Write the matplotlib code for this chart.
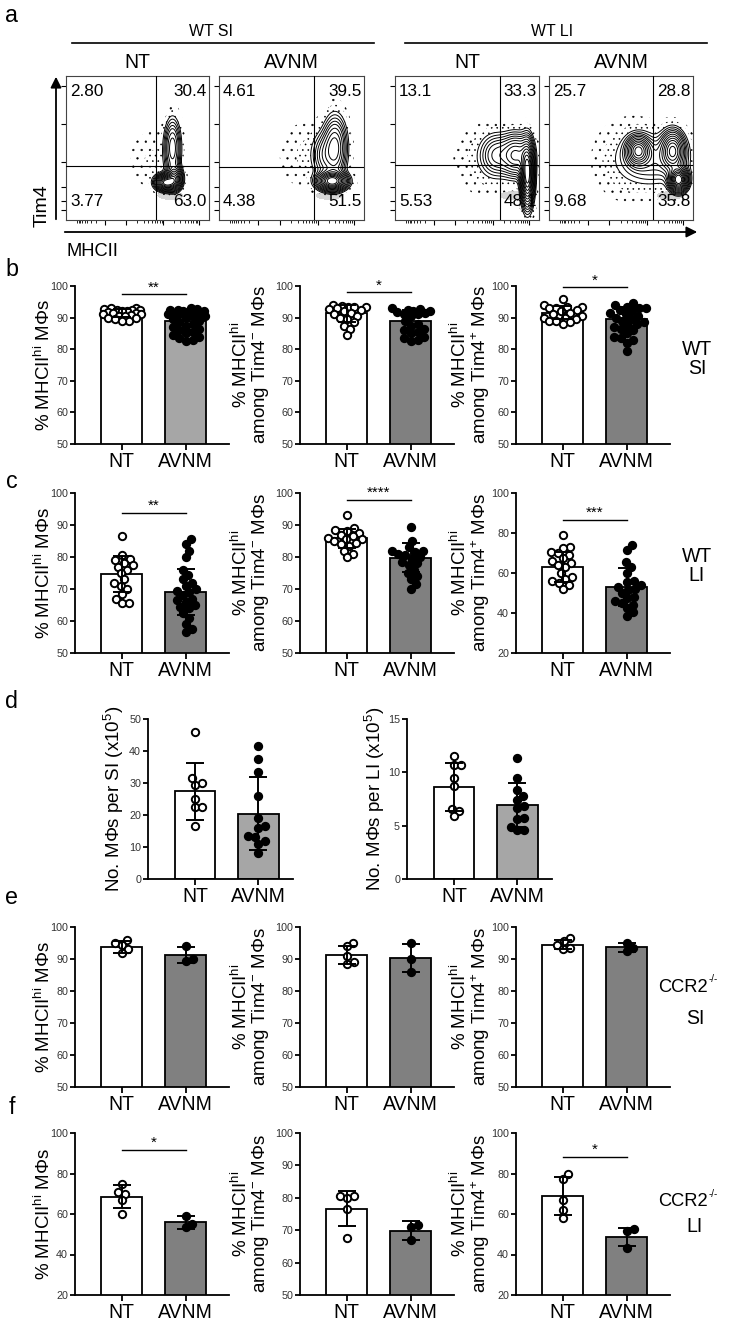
import numpy as np
import matplotlib
matplotlib.use('Agg')
import matplotlib.pyplot as plt
from matplotlib import font_manager

W, H = 743, 1324
DPI = 100

names = {f.name for f in font_manager.fontManager.ttflist}
REG = 'Liberation Sans'
if 'Liberation Sans Narrow' in names:
    NARROW, FS = 'Liberation Sans Narrow', 1.0
else:
    NARROW, FS = REG, 0.88

plt.rcParams['font.family'] = [REG, 'DejaVu Sans']
plt.rcParams['mathtext.fontset'] = 'custom'
plt.rcParams['mathtext.rm'] = REG
plt.rcParams['mathtext.default'] = 'regular'
plt.rcParams['hatch.linewidth'] = 0.4

# ---------------- panel a : flow plots ----------------
flow_groups = ['WT SI', 'WT LI']
flow_titles = ['NT', 'AVNM', 'NT', 'AVNM']
flow_quads = [['2.80', '30.4', '3.77', '63.0'],
              ['4.61', '39.5', '4.38', '51.5'],
              ['13.1', '33.3', '5.53', '48.1'],
              ['25.7', '28.8', '9.68', '35.8']]
flow_gate_x = [0.63, 0.655, 0.73, 0.72]
flow_gate_y = [0.375, 0.37, 0.38, 0.38]
# populations (x, y, sx, sy, weight) in box fraction
flow_pops = [
    [(0.70, 0.26, 0.04, 0.03, 1.0), (0.76, 0.29, 0.03, 0.045, 0.6),
     (0.745, 0.50, 0.032, 0.11, 0.35), (0.60, 0.42, 0.10, 0.13, 0.02)],
    [(0.78, 0.27, 0.055, 0.035, 1.0), (0.80, 0.50, 0.045, 0.12, 0.4),
     (0.72, 0.45, 0.045, 0.09, 0.15), (0.60, 0.45, 0.12, 0.15, 0.02)],
    [(0.92, 0.32, 0.025, 0.12, 1.0), (0.84, 0.45, 0.06, 0.08, 0.45),
     (0.70, 0.45, 0.06, 0.08, 0.2), (0.62, 0.42, 0.13, 0.15, 0.025)],
    [(0.62, 0.48, 0.045, 0.055, 0.55), (0.86, 0.48, 0.045, 0.075, 0.55),
     (0.90, 0.28, 0.035, 0.045, 0.9), (0.74, 0.42, 0.14, 0.10, 0.12),
     (0.56, 0.42, 0.15, 0.17, 0.025)],
]
flow_floor = [(0.73, 0.17, 0.06, 0.018), (0.76, 0.17, 0.06, 0.018),
              (0.82, 0.17, 0.06, 0.018), (0.84, 0.17, 0.06, 0.018)]

# ---------------- bar panels ----------------
groups = ['NT', 'AVNM']

b1_nt = [93, 93, 92.8, 92.5, 92.5, 92.3, 92, 92, 91.8, 91.5, 91.5, 91.2, 91, 90.8, 90.5, 90.5, 90, 89.8, 89.5, 89, 88.8]
b1_av = [93, 92.8, 92.5, 92.5, 92.2, 92, 92, 91.8, 91.5, 91.5, 91.2, 91, 90.5, 90.5, 90, 89.5, 89, 88.5,
         88, 87.5, 87, 86.5, 86, 85.5, 85, 84.5, 84, 83.5, 83, 82.5]
b1_mean, b1_sd = [91.5, 89.0], [1.3, 2.8]
b2_nt = [94, 93.8, 93.5, 93.5, 93.2, 93, 92.8, 92.5, 92, 91.5, 91, 90.5, 90, 89.5, 88.5, 87.5, 86.5, 84.5]
b2_av = [93, 92.8, 92.5, 92.2, 92, 91.8, 91.5, 91.2, 91, 90.5, 89, 88, 87.5, 86.5, 86, 85.5, 85, 84, 83.5, 83, 82.5]
b2_mean, b2_sd = [91.3, 89.0], [2.7, 3.5]
b3_nt = [96, 94, 93.5, 93.5, 93, 93, 92.5, 92, 91.5, 91, 90.5, 90, 90, 89.5, 89, 89, 88.5, 88]
b3_av = [94.5, 94, 93.5, 93, 93, 92.5, 92, 91.5, 91, 90.5, 90, 89.5, 89, 88.5, 88, 87.5, 87, 86.5, 86,
         85, 84, 83.5, 83, 82, 79.5]
b3_mean, b3_sd = [91.6, 89.5], [2.0, 3.8]

c1_nt = [86.5, 80.5, 79.5, 79, 78, 77.5, 77, 76, 75, 73, 72, 71, 70, 68.5, 67, 65.5, 65.5]
c1_av = [85.5, 84, 82, 80, 76, 74.5, 73, 72, 71, 70, 69.5, 69, 68, 67, 66.5, 66, 65, 64.5, 64, 62.5,
         61, 59, 57.5, 56.5]
c1_mean, c1_sd = [74.7, 69.1], [5.6, 7.3]
c2_nt = [93, 89, 88.5, 88, 87.5, 87, 86.5, 86, 85.5, 85.5, 85, 84.5, 84, 83.5, 82, 81, 80]
c2_av = [89.5, 85, 83, 82, 82, 81.5, 81, 80.5, 80, 79.5, 78.5, 78, 77.5, 76, 75, 74, 73, 71.5, 70]
c2_mean, c2_sd = [85.8, 79.8], [3.0, 4.5]
c3_nt = [79, 73, 72.5, 70.5, 70, 69, 67.5, 66, 65, 64, 63, 60, 58, 57, 56, 55, 54, 52]
c3_av = [74, 71.5, 65.5, 63, 60, 56, 55.5, 54, 53, 52, 51.5, 50, 48, 47.5, 46, 45, 44, 42.5, 40.5, 38.5]
c3_mean, c3_sd = [63.0, 53.0], [7.6, 9.3]

d1_nt = [46, 31.5, 30, 29.5, 25, 22.5, 22.5, 16.5]
d1_av = [41.5, 37.5, 33.5, 26, 19, 16.5, 16, 13.5, 13, 12, 11, 8]
d1_mean, d1_sd = [27.4, 20.4], [9.0, 11.4]
d2_nt = [11.5, 10.7, 10.7, 9.5, 8.7, 6.6, 6.4, 5.9]
d2_av = [11.3, 9.5, 8.3, 7.8, 7.4, 6.8, 6.7, 5.7, 5.6, 4.9, 4.6, 4.6]
d2_mean, d2_sd = [8.65, 6.95], [2.25, 2.05]

e1_nt, e1_av = [96, 95, 94.5, 93, 92], [94, 90, 89.5]
e1_mean, e1_sd = [93.8, 91.2], [1.8, 2.5]
e2_nt, e2_av = [95, 94, 91, 89, 88.5], [95, 90, 86]
e2_mean, e2_sd = [91.3, 90.3], [2.8, 4.4]
e3_nt, e3_av = [96.5, 95.5, 94.5, 93.5, 93], [95, 93.5, 92.5]
e3_mean, e3_sd = [94.5, 93.6], [1.4, 1.3]

f1_nt, f1_av = [75, 71, 70, 67, 60], [59, 55, 53.5]
f1_mean, f1_sd = [68.6, 56.0], [5.8, 3.2]
f2_nt, f2_av = [80.5, 80.5, 80, 76.5, 67.5], [71.5, 71, 67]
f2_mean, f2_sd = [76.6, 69.8], [5.4, 2.9]
f3_nt, f3_av = [80, 77.5, 67, 62, 58], [52.5, 51.5, 43]
f3_mean, f3_sd = [68.9, 48.7], [9.3, 4.6]

lab1 = '% MHCII$^{hi}$ MΦs'
lab2 = '% MHCII$^{hi}$\namong Tim4$^{-}$ MΦs'
lab3 = '% MHCII$^{hi}$\namong Tim4$^{+}$ MΦs'

LIGHT, DARK = '#a6a6a6', '#808080'

fig = plt.figure(figsize=(W / DPI, H / DPI), dpi=DPI)


def px_axes(l, t, r, b):
    ax = fig.add_axes([l / W, 1 - b / H, (r - l) / W, (b - t) / H])
    ax.patch.set_visible(False)
    return ax


over = px_axes(0, 0, W, H)
over.set_xlim(0, W)
over.set_ylim(H, 0)
over.axis('off')

# panel letters
for s, y in zip('abcdef', [15, 270, 482, 702, 898, 1108]):
    over.text(12, y, s, ha='center', va='center', fontsize=19 * FS, fontfamily=NARROW)

# ---- panel a ----
flow_left = [66, 219, 395, 549]
flow_right = [209, 364, 539, 693]
ftop, fbot = 76, 220

for g, cx, (x0, x1) in zip(flow_groups, [211, 552], [(72, 374), (405, 707)]):
    over.text(cx, 32, g, ha='center', va='center', fontsize=13 * FS, fontfamily=NARROW)
    over.plot([x0, x1], [43, 43], color='k', lw=1.2)

gx = np.linspace(0, 1, 240)
X, Y = np.meshgrid(gx, gx)
levels_rel = [0.04, 0.06, 0.085, 0.115, 0.15, 0.2, 0.26, 0.33, 0.41, 0.5, 0.6, 0.71, 0.83]
xmaj = [0.27, 0.42, 0.68, 0.93]
xmin = []
for a, b in [(0.42, 0.68), (0.68, 0.93)]:
    xmin += [a + (b - a) * np.log10(k) for k in range(2, 10)]
xmin += [0.27 - 0.2 * np.log10(k) for k in range(2, 10)]
ymaj = [0.07, 0.13, 0.23, 0.40, 0.67, 0.93]

for i in range(4):
    l, r = flow_left[i], flow_right[i]
    ax = px_axes(l, ftop, r, fbot)
    ax.set_xlim(0, 1)
    ax.set_ylim(0, 1)
    Z = np.zeros_like(X)
    for (px, py, sx, sy, w) in flow_pops[i]:
        Z += w * np.exp(-((X - px) ** 2 / (2 * sx ** 2) + (Y - py) ** 2 / (2 * sy ** 2)))
    zmax = Z.max()
    fx, fy, fsx, fsy = flow_floor[i]
    F = np.exp(-((X - fx) ** 2 / (2 * fsx ** 2) + (Y - fy) ** 2 / (2 * fsy ** 2)))
    ax.contourf(X, Y, F, levels=[0.35, 1.1], colors=['#d6d6d6'], zorder=1)
    ax.contourf(X, Y, Z, levels=[0.006 * zmax, 0.016 * zmax, 0.04 * zmax],
                colors='none', hatches=['..', '...'], zorder=1)
    ax.contour(X, Y, Z, levels=[v * zmax for v in levels_rel], colors='k', linewidths=0.7, zorder=2)
    ax.axvline(flow_gate_x[i], color='k', lw=0.8, zorder=3)
    ax.axhline(flow_gate_y[i], color='k', lw=0.8, zorder=3)
    for sp in ax.spines.values():
        sp.set_linewidth(0.8)
        sp.set_color('#444444')
    ax.set_xticks(xmaj)
    ax.set_xticks(xmin, minor=True)
    ax.set_yticks(ymaj)
    ax.tick_params(which='major', length=3.5, width=0.8, direction='out',
                   labelbottom=False, labelleft=False)
    ax.tick_params(which='minor', length=2, width=0.6, direction='out', left=False)
    q = flow_quads[i]
    bw, bh = r - l, fbot - ftop
    kw = dict(va='center', fontsize=14 * FS, fontfamily=NARROW, transform=ax.transAxes, zorder=5)
    ax.text(4 / bw, 1 - 16 / bh, q[0], ha='left', **kw)
    ax.text(1 - 2 / bw, 1 - 16 / bh, q[1], ha='right', **kw)
    ax.text(4 / bw, 18 / bh, q[2], ha='left', **kw)
    ax.text(1 - 2 / bw, 18 / bh, q[3], ha='right', **kw)
    over.text((l + r) / 2, 63, flow_titles[i], ha='center', va='center', fontsize=16 * FS, fontfamily=NARROW)

over.annotate('', xy=(56, 74), xytext=(56, 222),
              arrowprops=dict(arrowstyle='-|>', lw=1.3, color='k', mutation_scale=16))
over.annotate('', xy=(700, 232), xytext=(62, 232),
              arrowprops=dict(arrowstyle='-|>', lw=1.3, color='k', mutation_scale=16))
over.text(42, 206, 'Tim4', rotation=90, ha='center', va='center', fontsize=14)
over.text(67, 251, 'MHCII', ha='left', va='center', fontsize=15 * FS, fontfamily=NARROW)


# ---- bar panels ----
def swarm_x(vals, center, ylim, h_px, unit_px, d=7.0, max_off=19.0):
    ys = (np.asarray(vals, float) - ylim[0]) / (ylim[1] - ylim[0]) * h_px
    order = np.argsort(ys)
    steps = np.arange(0.5, max_off + 0.01, 0.5)
    cand = np.concatenate([[0], np.ravel(np.column_stack([steps, -steps]))])
    placed = []
    xs = np.zeros(len(ys))
    for k in order:
        best, best_d = 0.0, -1.0
        for c in cand:
            if not placed:
                best = c
                break
            md = min((c - qx) ** 2 + (ys[k] - qy) ** 2 for qx, qy in placed)
            if md >= d * d:
                best = c
                break
            if md > best_d:
                best, best_d = c, md
        placed.append((best, ys[k]))
        xs[k] = center + best / unit_px
    return xs


def bar_panel(box, nt, av, mean, sd, ylim, yticks, avcol, ylabel, lab_x,
              sig=None, xlim=(-0.73, 1.68)):
    l, t, r, b = box
    ax = px_axes(l, t, r, b)
    ax.set_xlim(*xlim)
    ax.set_ylim(*ylim)
    unit_px = (r - l) / (xlim[1] - xlim[0])
    h_px = b - t
    ax.bar([0, 1], mean, width=0.64, color=['white', avcol], edgecolor='k', linewidth=1.3, zorder=2)
    xs = swarm_x(nt, 0, ylim, h_px, unit_px)
    ax.plot(xs, nt, 'o', mfc='white', mec='k', ms=5.3, mew=1.4, zorder=3, clip_on=False)
    xs = swarm_x(av, 1, ylim, h_px, unit_px)
    ax.plot(xs, av, 'o', mfc='k', mec='k', ms=5.3, mew=1.4, zorder=3, clip_on=False)
    ax.errorbar([0, 1], mean, yerr=sd, fmt='none', ecolor='k', elinewidth=1.4,
                capsize=6.5, capthick=1.4, zorder=4)
    for s in ['top', 'right']:
        ax.spines[s].set_visible(False)
    for s in ['left', 'bottom']:
        ax.spines[s].set_linewidth(1.3)
    ax.set_xticks([0, 1])
    ax.set_xticklabels(groups, fontsize=16 * FS, fontfamily=NARROW)
    ax.set_yticks(yticks)
    ax.set_yticklabels([str(v) for v in yticks], fontsize=8.8 * FS, fontfamily=NARROW, color='#333333')
    ax.tick_params(axis='x', length=4, width=1.3, pad=1.5)
    ax.tick_params(axis='y', length=3.5, width=1.3, pad=1.5)
    if sig is not None:
        text, yl, ys = sig
        ax.plot([0, 1], [yl, yl], color='k', lw=1.0, clip_on=False)
        ax.text(0.5, ys, text, ha='center', va='center', fontsize=11, clip_on=False)
    over.text(lab_x, (t + b) / 2, ylabel, rotation=90, ha='center', va='center',
              fontsize=13.5, linespacing=0.92)
    return ax


cols = [(75, 229), (300, 454), (516, 670)]
lab_xs = [44, 251, 471]
rows = {'b': (286, 444), 'c': (493, 653), 'e': (927, 1087), 'f': (1133, 1295)}
t50 = [50, 60, 70, 80, 90, 100]
t20 = [20, 40, 60, 80, 100]


def box(row, col):
    return (cols[col][0], rows[row][0], cols[col][1], rows[row][1])


bar_panel(box('b', 0), b1_nt, b1_av, b1_mean, b1_sd, (50, 100), t50, LIGHT, lab1, lab_xs[0], ('**', 97.5, 99.5))
bar_panel(box('b', 1), b2_nt, b2_av, b2_mean, b2_sd, (50, 100), t50, DARK, lab2, lab_xs[1], ('*', 98, 100))
bar_panel(box('b', 2), b3_nt, b3_av, b3_mean, b3_sd, (50, 100), t50, DARK, lab3, lab_xs[2], ('*', 99.8, 101.8))

bar_panel(box('c', 0), c1_nt, c1_av, c1_mean, c1_sd, (50, 100), t50, DARK, lab1, lab_xs[0], ('**', 93.8, 96))
bar_panel(box('c', 1), c2_nt, c2_av, c2_mean, c2_sd, (50, 100), t50, DARK, lab2, lab_xs[1], ('****', 97.8, 100))
bar_panel(box('c', 2), c3_nt, c3_av, c3_mean, c3_sd, (20, 100), t20, DARK, lab3, lab_xs[2], ('***', 86.5, 90))

bar_panel((148, 719, 293, 879), d1_nt, d1_av, d1_mean, d1_sd, (0, 50), [0, 10, 20, 30, 40, 50], LIGHT,
          'No. MΦs per SI (x10$^{5}$)', 114, xlim=(-0.75, 1.55))
bar_panel((407, 719, 552, 879), d2_nt, d2_av, d2_mean, d2_sd, (0, 15), [0, 5, 10, 15], LIGHT,
          'No. MΦs per LI (x10$^{5}$)', 375, xlim=(-0.75, 1.55))

bar_panel(box('e', 0), e1_nt, e1_av, e1_mean, e1_sd, (50, 100), t50, DARK, lab1, lab_xs[0])
bar_panel(box('e', 1), e2_nt, e2_av, e2_mean, e2_sd, (50, 100), t50, DARK, lab2, lab_xs[1])
bar_panel(box('e', 2), e3_nt, e3_av, e3_mean, e3_sd, (50, 100), t50, DARK, lab3, lab_xs[2])

bar_panel(box('f', 0), f1_nt, f1_av, f1_mean, f1_sd, (20, 100), t20, DARK, lab1, lab_xs[0], ('*', 91.7, 95))
bar_panel(box('f', 1), f2_nt, f2_av, f2_mean, f2_sd, (50, 100), t50, DARK, lab2, lab_xs[1])
bar_panel(box('f', 2), f3_nt, f3_av, f3_mean, f3_sd, (20, 100), t20, DARK, lab3, lab_xs[2], ('*', 88, 91.5))

# side labels
side_kw = dict(ha='center', va='center', fontsize=16 * FS, fontfamily=NARROW)
over.text(697, 359, 'WT\nSI', linespacing=1.05, **side_kw)
over.text(697, 566, 'WT\nLI', linespacing=1.05, **side_kw)
for (yc, ys, lab) in [(987, 1018, 'SI'), (1202, 1227, 'LI')]:
    over.text(708, yc, 'CCR2', ha='right', va='center', fontsize=15 * FS, fontfamily=NARROW)
    over.text(709, yc - 8, '-/-', ha='left', va='center', fontsize=8 * FS, fontfamily=NARROW)
    over.text(695, ys, lab, **side_kw)

fig.savefig('out.png', dpi=DPI)
